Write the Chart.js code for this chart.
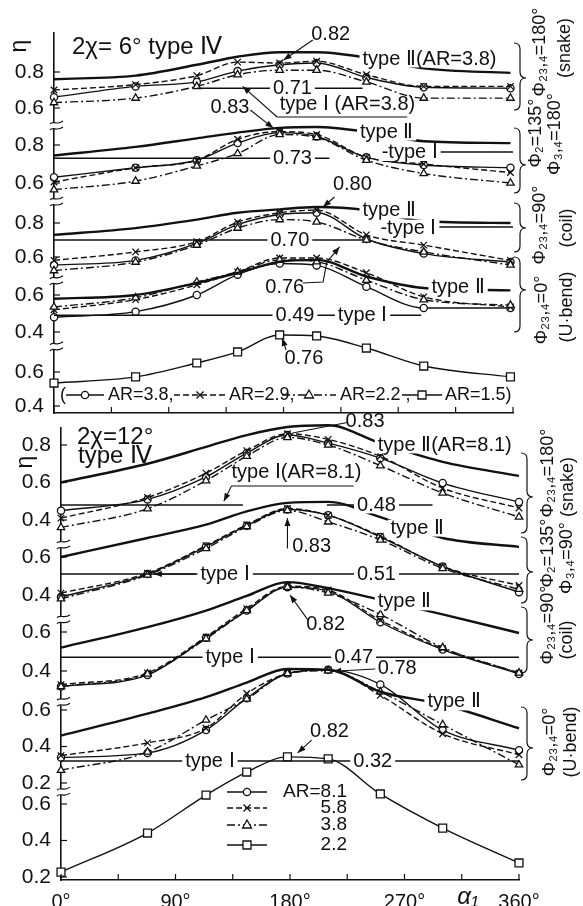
<!DOCTYPE html>
<html><head><meta charset="utf-8">
<script src="https://cdn.jsdelivr.net/npm/chart.js@4.4.1/dist/chart.umd.min.js"></script>
<style>
html,body{margin:0;padding:0;background:#fff;}
body{width:583px;height:906px;position:relative;overflow:hidden;}
canvas{position:absolute;left:0;}
</style></head><body>
<canvas id="c1" width="583" height="430" style="top:0;width:583px;height:430px"></canvas>
<canvas id="c2" width="583" height="496" style="top:410px;width:583px;height:496px"></canvas>
<script>
const FONT = '"Liberation Sans", Arial, Helvetica, sans-serif';
const INK = '#111';

// ===== Upper figure: 2χ = 6°, type IV =====
const alphaTop = [0, 64, 112, 144, 177, 206, 245, 290, 358];
// Φ2,3,4 = 180° (snake)
const top_snake_AR38   = [0.66, 0.72, 0.745, 0.805, 0.84, 0.85, 0.77, 0.715, 0.71];
const top_snake_AR29   = [0.70, 0.73, 0.78, 0.855, 0.85, 0.86, 0.785, 0.72, 0.72];
const top_snake_AR22   = [0.63, 0.655, 0.72, 0.785, 0.81, 0.81, 0.745, 0.655, 0.655];
const top_snake_typeII = [0.76, 0.78, 0.84, 0.885, 0.91, 0.91, 0.88, 0.82, 0.795];
const top_snake_ref = 0.71, top_snake_refSpan = [112, 242];
// Φ2 = 135°, Φ3,4 = 180°
const top_p135_AR38   = [0.63, 0.68, 0.72, 0.81, 0.865, 0.845, 0.735, 0.695, 0.68];
const top_p135_AR29   = [0.605, 0.68, 0.72, 0.83, 0.87, 0.855, 0.735, 0.70, 0.655];
const top_p135_AR22   = [0.565, 0.61, 0.69, 0.755, 0.855, 0.84, 0.72, 0.65, 0.60];
const top_p135_typeII = [0.745, 0.79, 0.835, 0.865, 0.89, 0.895, 0.87, 0.82, 0.81];
const top_p135_typeI = 0.763, top_p135_typeISpan = [293, 360];
const top_p135_ref = 0.73, top_p135_refSpan = [0, 216];
// Φ2,3,4 = 90° (coil)
const top_coil_AR38   = [0.553, 0.58, 0.68, 0.79, 0.85, 0.86, 0.706, 0.62, 0.57];
const top_coil_AR29   = [0.58, 0.63, 0.69, 0.805, 0.86, 0.876, 0.73, 0.67, 0.58];
const top_coil_AR22   = [0.52, 0.57, 0.67, 0.77, 0.82, 0.806, 0.70, 0.63, 0.553];
const top_coil_typeII = [0.73, 0.77, 0.82, 0.86, 0.88, 0.894, 0.876, 0.81, 0.80];
const top_coil_typeI = 0.776, top_coil_typeISpan = [297, 360];
const top_coil_ref = 0.70, top_coil_refSpan = [0, 242];
// Φ2,3,4 = 0° (U-bend)
const top_ubend_AR38   = [0.48, 0.51, 0.60, 0.71, 0.77, 0.76, 0.645, 0.53, 0.53];
const top_ubend_AR29   = [0.52, 0.575, 0.655, 0.725, 0.80, 0.80, 0.72, 0.59, 0.535];
const top_ubend_AR22   = [0.535, 0.585, 0.67, 0.725, 0.79, 0.78, 0.68, 0.575, 0.545];
const top_ubend_typeII = [0.58, 0.60, 0.665, 0.72, 0.78, 0.79, 0.70, 0.638, 0.625];
const top_ubend_ref = 0.49, top_ubend_refSpan = [0, 288];
// AR = 1.5
const top_AR15 = [0.535, 0.571, 0.653, 0.718, 0.818, 0.812, 0.741, 0.635, 0.571];
const topTickLabels = [[0.8, 0.6], [0.8, 0.6], [0.8, 0.6], [0.6, 0.4], [0.6, 0.4]];

// ===== Lower figure: 2χ = 12°, type IV =====
const alphaBot = [0, 68, 114, 146, 178, 210, 251, 300, 360];
const bot_snake_AR81   = [0.45, 0.51, 0.63, 0.757, 0.853, 0.81, 0.73, 0.597, 0.496];
const bot_snake_AR58   = [0.41, 0.52, 0.65, 0.77, 0.86, 0.83, 0.74, 0.57, 0.464];
const bot_snake_AR38   = [0.36, 0.46, 0.61, 0.74, 0.84, 0.80, 0.69, 0.544, 0.416];
const bot_snake_typeII = [0.60, 0.70, 0.79, 0.853, 0.896, 0.905, 0.81, 0.71, 0.635];
const bot_snake_ref = 0.48, bot_snake_refSpans = [[0, 143], [209, 292]];
const bot_p135_AR81   = [0.39, 0.51, 0.655, 0.765, 0.85, 0.82, 0.705, 0.55, 0.415];
const bot_p135_AR58   = [0.41, 0.515, 0.66, 0.77, 0.855, 0.82, 0.71, 0.55, 0.45];
const bot_p135_AR38   = [0.38, 0.505, 0.645, 0.76, 0.845, 0.785, 0.69, 0.54, 0.43];
const bot_p135_typeII = [0.60, 0.70, 0.77, 0.84, 0.885, 0.89, 0.81, 0.70, 0.653];
const bot_p135_ref = 0.51, bot_p135_refSpan = [0, 360];
const bot_coil_AR81   = [0.32, 0.38, 0.57, 0.71, 0.83, 0.81, 0.65, 0.51, 0.385];
const bot_coil_AR58   = [0.33, 0.39, 0.575, 0.72, 0.835, 0.815, 0.66, 0.515, 0.39];
const bot_coil_AR38   = [0.32, 0.385, 0.565, 0.71, 0.83, 0.80, 0.69, 0.52, 0.39];
const bot_coil_typeII = [0.52, 0.625, 0.71, 0.785, 0.856, 0.825, 0.765, 0.69, 0.595];
const bot_coil_ref = 0.47, bot_coil_refSpan = [0, 360];
const bot_ubend_AR81   = [0.34, 0.365, 0.49, 0.665, 0.80, 0.82, 0.74, 0.49, 0.38];
const bot_ubend_AR58   = [0.35, 0.42, 0.50, 0.69, 0.80, 0.82, 0.68, 0.47, 0.355];
const bot_ubend_AR38   = [0.27, 0.37, 0.545, 0.66, 0.80, 0.815, 0.70, 0.52, 0.30];
const bot_ubend_typeII = [0.46, 0.58, 0.67, 0.75, 0.825, 0.82, 0.70, 0.63, 0.50];
const bot_ubend_ref = 0.32, bot_ubend_refSpan = [0, 360];
const bot_AR22 = [0.227, 0.441, 0.649, 0.775, 0.858, 0.847, 0.655, 0.468, 0.277];
const botTickLabels = [[0.8, 0.6, 0.4], [0.6, 0.4], [0.6, 0.4], [0.6, 0.4, 0.2], [0.6, 0.4, 0.2]];
const xTickStep = 45;

// ===== layout (pixel frame, page coordinates) =====
const topLayout = {off: 0, top: 33, bottom: 413, left: 54, right: 513, xH: 0};
const topPanels = [
  {id: 'p1', v1: 0.8, p1: 72, v2: 0.6, p2: 108},
  {id: 'p2', v1: 0.8, p1: 145, v2: 0.6, p2: 183},
  {id: 'p3', v1: 0.8, p1: 223, v2: 0.6, p2: 257},
  {id: 'p4', v1: 0.6, p1: 295, v2: 0.4, p2: 332},
  {id: 'p5', v1: 0.6, p1: 372, v2: 0.4, p2: 406}
];
const botLayout = {off: 410, top: 428, bottom: 880, left: 61, right: 519, xH: 26};
const botPanels = [
  {id: 'q1', v1: 0.8, p1: 445, v2: 0.4, p2: 520},
  {id: 'q2', v1: 0.6, p1: 557, v2: 0.4, p2: 595},
  {id: 'q3', v1: 0.6, p1: 632, v2: 0.4, p2: 671},
  {id: 'q4', v1: 0.6, p1: 710, v2: 0.2, p2: 783},
  {id: 'q5', v1: 0.6, p1: 804, v2: 0.2, p2: 877}
];

// ===== styles =====
const S = {
  ar1: {borderWidth: 1.4, borderDash: [], pointStyle: 'circle', pointRadius: 3.6},
  ar2: {borderWidth: 1.4, borderDash: [6, 3], pointStyle: 'crossRot', pointRadius: 4.6},
  ar3: {borderWidth: 1.4, borderDash: [8, 3, 2, 3], pointStyle: 'triangle', pointRadius: 4.3},
  sq:  {borderWidth: 1.4, borderDash: [], pointStyle: 'rect', pointRadius: 5.6},
  t2:  {borderWidth: 2.4, borderDash: [], pointRadius: 0},
  t1:  {borderWidth: 1.5, borderDash: [], pointRadius: 0, tension: 0, cubicInterpolationMode: 'default'}
};
function ds(axis, xs, ys, kind) {
  return Object.assign({
    yAxisID: axis, data: xs.map((x, i) => ({x: x, y: ys[i]})),
    borderColor: INK, backgroundColor: '#fff', pointBackgroundColor: '#fff',
    pointBorderColor: INK, pointBorderWidth: 1.3, pointHoverRadius: 0,
    fill: false, clip: false, cubicInterpolationMode: 'monotone', tension: 0.4
  }, S[kind]);
}
function hl(axis, span, v) { return ds(axis, span, [v, v], 't1'); }

const topDatasets = [
  hl('p1', top_snake_refSpan, top_snake_ref),
  hl('p2', top_p135_refSpan, top_p135_ref),
  hl('p2', top_p135_typeISpan, top_p135_typeI),
  hl('p3', top_coil_refSpan, top_coil_ref),
  hl('p3', top_coil_typeISpan, top_coil_typeI),
  hl('p4', top_ubend_refSpan, top_ubend_ref),
  ds('p1', alphaTop, top_snake_typeII, 't2'),
  ds('p2', alphaTop, top_p135_typeII, 't2'),
  ds('p3', alphaTop, top_coil_typeII, 't2'),
  ds('p4', alphaTop, top_ubend_typeII, 't2'),
  ds('p1', alphaTop, top_snake_AR22, 'ar3'), ds('p1', alphaTop, top_snake_AR29, 'ar2'), ds('p1', alphaTop, top_snake_AR38, 'ar1'),
  ds('p2', alphaTop, top_p135_AR22, 'ar3'), ds('p2', alphaTop, top_p135_AR29, 'ar2'), ds('p2', alphaTop, top_p135_AR38, 'ar1'),
  ds('p3', alphaTop, top_coil_AR22, 'ar3'), ds('p3', alphaTop, top_coil_AR29, 'ar2'), ds('p3', alphaTop, top_coil_AR38, 'ar1'),
  ds('p4', alphaTop, top_ubend_AR22, 'ar3'), ds('p4', alphaTop, top_ubend_AR29, 'ar2'), ds('p4', alphaTop, top_ubend_AR38, 'ar1'),
  ds('p5', alphaTop, top_AR15, 'sq')
];
const botDatasets = [
  hl('q1', bot_snake_refSpans[0], bot_snake_ref),
  hl('q1', bot_snake_refSpans[1], bot_snake_ref),
  hl('q2', bot_p135_refSpan, bot_p135_ref),
  hl('q3', bot_coil_refSpan, bot_coil_ref),
  hl('q4', bot_ubend_refSpan, bot_ubend_ref),
  ds('q1', alphaBot, bot_snake_typeII, 't2'),
  ds('q2', alphaBot, bot_p135_typeII, 't2'),
  ds('q3', alphaBot, bot_coil_typeII, 't2'),
  ds('q4', alphaBot, bot_ubend_typeII, 't2'),
  ds('q1', alphaBot, bot_snake_AR38, 'ar3'), ds('q1', alphaBot, bot_snake_AR58, 'ar2'), ds('q1', alphaBot, bot_snake_AR81, 'ar1'),
  ds('q2', alphaBot, bot_p135_AR38, 'ar3'), ds('q2', alphaBot, bot_p135_AR58, 'ar2'), ds('q2', alphaBot, bot_p135_AR81, 'ar1'),
  ds('q3', alphaBot, bot_coil_AR38, 'ar3'), ds('q3', alphaBot, bot_coil_AR58, 'ar2'), ds('q3', alphaBot, bot_coil_AR81, 'ar1'),
  ds('q4', alphaBot, bot_ubend_AR38, 'ar3'), ds('q4', alphaBot, bot_ubend_AR58, 'ar2'), ds('q4', alphaBot, bot_ubend_AR81, 'ar1'),
  ds('q5', alphaBot, bot_AR22, 'sq')
];

// ===== annotations (data coordinates: axis, alpha, eta) =====
const topNotes = [
  {ax: 'p1', a: 217, v: 1.006, t: '0.82'},
  {ax: 'p1', a: 242, v: 0.872, t: 'type Ⅱ(AR=3.8)', al: 'left', bg: true},
  {ax: 'p1', a: 187, v: 0.711, t: '0.71', bg: true},
  {ax: 'p1', a: 177, v: 0.617, t: 'type Ⅰ (AR=3.8)', al: 'left'},
  {ax: 'p2', a: 138, v: 0.995, t: '0.83'},
  {ax: 'p2', a: 240, v: 0.868, t: 'type Ⅱ', al: 'left', bg: true},
  {ax: 'p2', a: 187, v: 0.73, t: '0.73', bg: true},
  {ax: 'p2', a: 257, v: 0.76, t: '-type Ⅰ', al: 'left', bg: true},
  {ax: 'p3', a: 234, v: 1.024, t: '0.80'},
  {ax: 'p3', a: 242, v: 0.876, t: 'type Ⅱ', al: 'left', bg: true},
  {ax: 'p3', a: 185, v: 0.70, t: '0.70', bg: true},
  {ax: 'p3', a: 256, v: 0.77, t: '-type Ⅰ', al: 'left', bg: true},
  {ax: 'p4', a: 181, v: 0.643, t: '0.76'},
  {ax: 'p4', a: 296, v: 0.638, t: 'type Ⅱ', al: 'left', bg: true},
  {ax: 'p4', a: 189, v: 0.49, t: '0.49', bg: true},
  {ax: 'p4', a: 242, v: 0.49, t: 'type Ⅰ', bg: true},
  {ax: 'p5', a: 196, v: 0.682, t: '0.76'}
];
const topArrows = [
  {ax: 'p1', pts: [[203, 0.978], [180, 0.867]], head: true},
  {ax: 'p1', pts: [[277, 0.55], [175, 0.55]]},
  {ax: 'p1', pts: [[175, 0.55], [148, 0.72]], head: true},
  {ax: 'p2', pts: [[154, 0.984], [172, 0.889]], head: true},
  {ax: 'p3', pts: [[220, 0.953], [211, 0.894]], head: true},
  {ax: 'p4', pts: [[195, 0.665], [211, 0.67], [214, 0.778]]},
  {ax: 'p4', pts: [[214, 0.778], [224, 0.86]], head: true},
  {ax: 'p5', pts: [[182, 0.73], [179, 0.80]], head: true}
];
const topBreaks = [{ax: 'p1', v: 0.5}, {ax: 'p2', v: 0.5}, {ax: 'p3', v: 0.46}, {ax: 'p4', v: 0.32}];

const botNotes = [
  {ax: 'q1', a: 239, v: 0.923, t: '0.83'},
  {ax: 'q1', a: 249, v: 0.80, t: 'type Ⅱ(AR=8.1)', al: 'left', bg: true},
  {ax: 'q1', a: 134, v: 0.651, t: 'type Ⅰ(AR=8.1)', al: 'left'},
  {ax: 'q1', a: 248, v: 0.48, t: '0.48', bg: true},
  {ax: 'q2', a: 197, v: 0.653, t: '0.83'},
  {ax: 'q2', a: 259, v: 0.752, t: 'type Ⅱ', al: 'left', bg: true},
  {ax: 'q2', a: 129, v: 0.51, t: 'type Ⅰ', bg: true},
  {ax: 'q2', a: 248, v: 0.51, t: '0.51', bg: true},
  {ax: 'q3', a: 208, v: 0.636, t: '0.82'},
  {ax: 'q3', a: 249, v: 0.754, t: 'type Ⅱ', al: 'left', bg: true},
  {ax: 'q3', a: 133, v: 0.47, t: 'type Ⅰ', bg: true},
  {ax: 'q3', a: 230, v: 0.47, t: '0.47', bg: true},
  {ax: 'q4', a: 249, v: 0.83, t: '0.78', al: 'left'},
  {ax: 'q4', a: 288, v: 0.644, t: 'type Ⅱ', al: 'left', bg: true},
  {ax: 'q4', a: 117, v: 0.32, t: 'type Ⅰ', bg: true},
  {ax: 'q4', a: 245, v: 0.32, t: '0.32', bg: true},
  {ax: 'q5', a: 211, v: 0.995, t: '0.82'}
];
const botArrows = [
  {ax: 'q1', pts: [[225, 0.92], [182, 0.864]]},
  {ax: 'q1', pts: [[230, 0.581], [134, 0.581]]},
  {ax: 'q1', pts: [[134, 0.581], [128, 0.50]], head: true},
  {ax: 'q2', pts: [[178, 0.645], [178, 0.805]], head: true},
  {ax: 'q2', pts: [[106, 0.51], [73, 0.51]], head: true},
  {ax: 'q3', pts: [[194, 0.662], [180, 0.79]], head: true},
  {ax: 'q4', pts: [[247, 0.825], [214, 0.812]], head: true},
  {ax: 'q5', pts: [[197, 0.95], [186, 0.88]], head: true}
];
const botBreaks = [{ax: 'q1', v: 0.267}, {ax: 'q2', v: 0.27}, {ax: 'q3', v: 0.24}, {ax: 'q4', v: 0.15}];

// ===== drawing helpers =====
function txt(ctx, s, x, y, o) {
  o = o || {};
  const size = o.size || 20;
  ctx.save();
  ctx.font = (o.italic ? 'italic ' : '') + size + 'px ' + FONT;
  ctx.textAlign = o.al || 'center';
  ctx.textBaseline = 'middle';
  if (o.rot) { ctx.translate(x, y); ctx.rotate(o.rot); x = 0; y = 0; }
  if (o.bg) {
    const w = ctx.measureText(s).width;
    const x0 = o.al === 'left' ? x : (o.al === 'right' ? x - w : x - w / 2);
    ctx.fillStyle = '#fff';
    ctx.fillRect(x0 - 3, y - size * 0.42, w + 6, size * 0.84);
  }
  ctx.fillStyle = INK;
  ctx.fillText(s, x, y);
  ctx.restore();
}
function seg(ctx, pts, head) {
  ctx.beginPath();
  ctx.moveTo(pts[0][0], pts[0][1]);
  for (let i = 1; i < pts.length; i++) ctx.lineTo(pts[i][0], pts[i][1]);
  ctx.stroke();
  if (head) {
    const [x1, y1] = pts[pts.length - 2], [x2, y2] = pts[pts.length - 1];
    const an = Math.atan2(y2 - y1, x2 - x1), L = 8, W = 3;
    ctx.beginPath();
    ctx.moveTo(x2, y2);
    ctx.lineTo(x2 - L * Math.cos(an) + W * Math.sin(an), y2 - L * Math.sin(an) - W * Math.cos(an));
    ctx.lineTo(x2 - L * Math.cos(an) - W * Math.sin(an), y2 - L * Math.sin(an) + W * Math.cos(an));
    ctx.closePath(); ctx.fill();
  }
}
function brk(ctx, x, y) {
  ctx.save();
  ctx.fillStyle = '#fff'; ctx.fillRect(x - 3, y - 3, 6, 6);
  ctx.lineWidth = 1.2;
  for (const dy of [-3, 3]) {
    ctx.beginPath(); ctx.moveTo(x - 4, y + dy + 1);
    ctx.bezierCurveTo(x - 1, y + dy - 3, x + 3, y + dy + 3, x + 9, y + dy - 2);
    ctx.stroke();
  }
  ctx.restore();
}
function brace(ctx, x, y0, y1, yc) {
  const w = 6;
  ctx.save(); ctx.lineWidth = 1.2;
  ctx.beginPath();
  ctx.moveTo(x, y0);
  ctx.quadraticCurveTo(x + w, y0, x + w, y0 + 6);
  ctx.lineTo(x + w, yc - 6);
  ctx.quadraticCurveTo(x + w, yc, x + 2 * w, yc);
  ctx.quadraticCurveTo(x + w, yc, x + w, yc + 6);
  ctx.lineTo(x + w, y1 - 6);
  ctx.quadraticCurveTo(x + w, y1, x, y1);
  ctx.stroke(); ctx.restore();
}
function mark(ctx, kind, x, y) {
  ctx.save(); ctx.lineWidth = 1.3; ctx.strokeStyle = INK; ctx.fillStyle = '#fff'; ctx.setLineDash([]);
  ctx.beginPath();
  if (kind === 'ar1') { ctx.arc(x, y, 3.6, 0, 2 * Math.PI); ctx.fill(); ctx.stroke(); }
  else if (kind === 'ar2') { const r = 3.5; ctx.moveTo(x - r, y - r); ctx.lineTo(x + r, y + r); ctx.moveTo(x + r, y - r); ctx.lineTo(x - r, y + r); ctx.stroke(); }
  else if (kind === 'ar3') { ctx.moveTo(x, y - 5); ctx.lineTo(x + 4.5, y + 3); ctx.lineTo(x - 4.5, y + 3); ctx.closePath(); ctx.fill(); ctx.stroke(); }
  else { ctx.rect(x - 4, y - 4, 8, 8); ctx.fill(); ctx.stroke(); }
  ctx.restore();
}
function sample(ctx, kind, x0, x1, y) {
  ctx.save(); ctx.lineWidth = 1.3;
  ctx.setLineDash(S[kind].borderDash || []);
  ctx.beginPath(); ctx.moveTo(x0, y); ctx.lineTo(x1, y); ctx.stroke();
  ctx.restore();
  mark(ctx, kind, (x0 + x1) / 2, y);
}

function decoPlugin(spec) {
  return {
    id: 'deco',
    afterDatasetsDraw(chart) {
      const ctx = chart.ctx, A = chart.chartArea, X = chart.scales.x;
      const P = (ax, a, v) => [X.getPixelForValue(a), chart.scales[ax].getPixelForValue(v)];
      ctx.save();
      ctx.strokeStyle = INK; ctx.fillStyle = INK; ctx.lineWidth = 1.2;
      for (let a = 0; a <= 360; a += xTickStep) {
        const x = X.getPixelForValue(a);
        ctx.beginPath(); ctx.moveTo(x, A.bottom); ctx.lineTo(x, A.bottom - 6); ctx.stroke();
      }
      spec.panels.forEach((p, i) => spec.ticks[i].forEach(v => {
        const y = chart.scales[p.id].getPixelForValue(v);
        ctx.beginPath(); ctx.moveTo(A.left, y); ctx.lineTo(A.left + 6, y); ctx.stroke();
        txt(ctx, v.toFixed(1), A.left - 10, y, {al: 'right', size: 21});
      }));
      spec.breaks.forEach(b => brk(ctx, A.left, chart.scales[b.ax].getPixelForValue(b.v)));
      ctx.lineWidth = 1.1;
      spec.arrows.forEach(ar => seg(ctx, ar.pts.map(q => P(ar.ax, q[0], q[1])), ar.head));
      spec.notes.forEach(n => { const [x, y] = P(n.ax, n.a, n.v); txt(ctx, n.t, x, y, n); });
      spec.pix(ctx, (x, y) => [x, y - spec.off]);
      ctx.restore();
    }
  };
}

function build(id, L, panels, tickSets, datasets, spec) {
  const cv = document.getElementById(id);
  const H = cv.height;
  const top = L.top - L.off, bottom = L.bottom - L.off;
  const scales = {
    x: {
      type: 'linear', min: 0, max: 360, position: 'bottom',
      grid: {display: false}, border: {display: true, color: INK, width: 1.6},
      ticks: {display: L.xH > 0, stepSize: xTickStep, autoSkip: false, maxRotation: 0, minRotation: 0,
              padding: 2, color: INK, font: {family: FONT, size: 20},
              callback: v => (v % 90 === 0 ? v + '°' : '')},
      afterFit: s => { s.height = L.xH; }
    }
  };
  panels.forEach((p, i) => {
    const p1 = p.p1 - L.off, p2 = p.p2 - L.off;
    const k = (p2 - p1) / (p.v1 - p.v2);
    const tv = tickSets[i];
    scales[p.id] = {
      type: 'linear', position: 'left', bounds: 'data',
      max: p.v1 + (p1 - top) / k, min: p.v1 - (bottom - p1) / k,
      grid: {display: false}, border: {display: i === 0, color: INK, width: 1.6},
      ticks: {display: false},
      afterBuildTicks: ax => { ax.ticks = tv.map(v => ({value: v})); },
      afterFit: ax => { ax.width = 0; }
    };
  });
  spec.panels = panels; spec.ticks = tickSets; spec.off = L.off;
  return new Chart(cv, {
    type: 'line',
    data: {datasets: datasets},
    options: {
      responsive: false, animation: false, devicePixelRatio: 1,
      layout: {padding: {left: L.left, right: 583 - L.right, top: top, bottom: H - bottom - L.xH}},
      scales: scales,
      plugins: {legend: {display: false}, tooltip: {enabled: false}},
      events: []
    },
    plugins: [decoPlugin(spec)]
  });
}

const R = -Math.PI / 2;
build('c1', topLayout, topPanels, topTickLabels, topDatasets, {
  notes: topNotes, arrows: topArrows, breaks: topBreaks,
  pix(ctx, T) {
    let [x, y] = T(72, 47); txt(ctx, '2χ= 6° type Ⅳ', x, y, {al: 'left', size: 24});
    [x, y] = T(20, 46); txt(ctx, 'η', x, y, {size: 23, rot: R});
    const lab = [['Φ₂₃,₄=180°', 540, 52], ['(snake)', 565, 48], ['Φ₂=135°', 536, 133], ['Φ₃,₄=180°', 555, 134],
                 ['Φ₂₃,₄=90°', 540, 225], ['(coil)', 567, 228], ['Φ₂₃,₄=0°', 542, 310], ['(U·bend)', 567, 307]];
    lab.forEach(l => { const q = T(l[1], l[2]); txt(ctx, l[0], q[0], q[1], {size: 18, rot: R}); });
    [[43, 110, 78], [128, 193, 165], [203, 252, 228], [257, 332, 290]].forEach(b => {
      const a = T(514, b[0]), c = T(514, b[1]), m = T(514, b[2]); brace(ctx, a[0], a[1], c[1], m[1]);
    });
    const ly = T(0, 395)[1];
    txt(ctx, '(', 60, ly, {size: 18, al: 'left'});
    sample(ctx, 'ar1', 66, 104, ly); txt(ctx, 'AR=3.8,', 108, ly, {size: 18, al: 'left'});
    sample(ctx, 'ar2', 174, 226, ly); txt(ctx, 'AR=2.9,', 229, ly, {size: 18, al: 'left'});
    sample(ctx, 'ar3', 282, 336, ly); txt(ctx, 'AR=2.2 ,', 340, ly, {size: 18, al: 'left'});
    sample(ctx, 'sq', 402, 442, ly); txt(ctx, 'AR=1.5)', 445, ly, {size: 18, al: 'left'});
  }
});
build('c2', botLayout, botPanels, botTickLabels, botDatasets, {
  notes: botNotes, arrows: botArrows, breaks: botBreaks,
  pix(ctx, T) {
    let [x, y] = T(77, 437); txt(ctx, '2χ=12°', x, y, {al: 'left', size: 24});
    [x, y] = T(78, 456); txt(ctx, 'type Ⅳ', x, y, {al: 'left', size: 24});
    [x, y] = T(26, 462); txt(ctx, 'η', x, y, {size: 23, rot: R});
    [x, y] = T(468, 897); txt(ctx, 'α₁', x, y, {size: 24, italic: true});
    const lab = [['Φ₂₃,₄=180°', 548, 473], ['(snake)', 568, 487], ['Φ₂=135°', 548, 553], ['Φ₃,₄=90°', 567, 558],
                 ['Φ₂₃,₄=90°', 548, 625], ['(coil)', 567, 640], ['Φ₂₃,₄=0°', 550, 742], ['(U·bend)', 571, 742]];
    lab.forEach(l => { const q = T(l[1], l[2]); txt(ctx, l[0], q[0], q[1], {size: 18, rot: R}); });
    [[453, 533, 497], [537, 603, 572], [607, 673, 640], [707, 780, 748]].forEach(b => {
      const a = T(521, b[0]), c = T(521, b[1]), m = T(521, b[2]); brace(ctx, a[0], a[1], c[1], m[1]);
    });
    const rows = [['ar1', 'AR=8.1', 792], ['ar2', '5.8', 808], ['ar3', '3.8', 825], ['sq', '2.2', 845]];
    rows.forEach(r => { const q = T(0, r[2]); sample(ctx, r[0], 227, 267, q[1]); txt(ctx, r[1], 347, q[1], {size: 19, al: 'right'}); });
  }
});
</script>
</body></html>
